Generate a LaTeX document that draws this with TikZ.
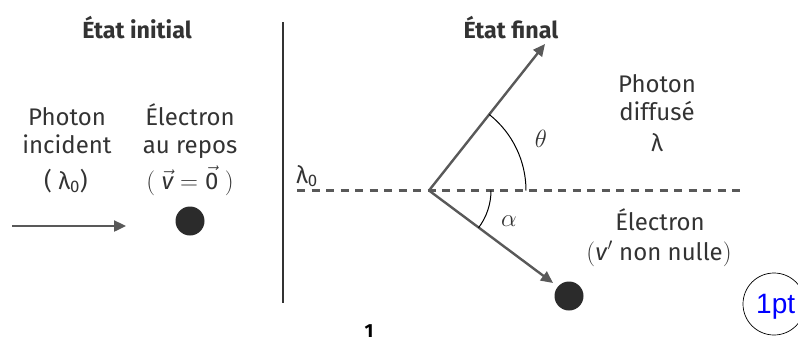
\documentclass[tikz,border=0pt]{standalone}
\usepackage{fontspec}
\setmainfont{Fira Sans}
\newfontfamily\helv{Liberation Sans}
\usetikzlibrary{arrows.meta,calc}
\definecolor{txt}{HTML}{333333}
\definecolor{ln}{HTML}{595959}
\definecolor{dotc}{HTML}{2B2B2B}
\begin{document}
\begin{tikzpicture}[x=1pt,y=-1pt,
  lab/.style={anchor=base,inner sep=0pt,text=txt,font=\fontsize{24}{28}\selectfont},
  ttl/.style={anchor=base,inner sep=0pt,text=txt,font=\fontsize{23.3}{27}\selectfont\bfseries},
  ray/.style={draw=ln,line width=2.4pt,-{Triangle[length=12pt,width=11pt]}},
  dotstyle/.style={circle,fill=dotc,inner sep=0pt,minimum size=29pt},
  arcst/.style={draw=black,line width=1pt}]
\useasboundingbox (0,0) rectangle (798,338);
% titles
\node[ttl] (t1) at (137,38) {État initial};
\node[ttl] (t2) at (511,38) {État final};
% separator
\coordinate (s1) at (283,22);
\coordinate (s2) at (283,303);
\draw[draw=txt,line width=2.6pt] (s1) -- (s2);
% left texts
\node[lab] (p1) at (67,125) {Photon};
\node[lab] (p2) at (67,153) {incident};
\node[lab] (p3) at (66,189) {( λ\textsubscript{0})};
\node[lab] (e1) at (190,125) {Électron};
\node[lab] (e2) at (190,153) {au repos};
\node[lab] (e3) at (190,189) {$\Bigl($ $\vec{\mbox{\itshape v}}=\vec{\mbox{0}}$ $\Bigr)$};
% incident
\coordinate (ia) at (12,226);
\coordinate (ib) at (126,226);
\draw[ray] (ia) -- (ib);
\node[dotstyle] (d1) at (190,221) {};
% final state
\node[lab,anchor=base west] (l0) at (296,183) {λ\textsubscript{0}};
\coordinate (da) at (297,190.5);
\coordinate (db) at (742,190.5);
\draw[draw=ln,line width=2.4pt,dash pattern=on 8pt off 6.5pt] (da) -- (db);
\coordinate (O) at (429,190.5);
\coordinate (ph) at (545,44);
\coordinate (el) at (553,283);
\draw[ray] (O) -- (ph);
\draw[ray] (O) -- (el);
\node[dotstyle] (d2) at (569,296) {};
% angle arcs
\draw[arcst] ($(O)+(97,0)$) arc[start angle=0,end angle=-51.6,radius=97];
\draw[arcst] ($(O)+(62,0)$) arc[start angle=0,end angle=37,radius=62];
\node[anchor=center,inner sep=0pt,text=txt,font=\fontsize{24}{28}\selectfont] (th) at (541,139) {$\theta$};
\node[anchor=center,inner sep=0pt,text=txt,font=\fontsize{24}{28}\selectfont] (al) at (509,221) {$\alpha$};
% right texts
\node[lab] (r1) at (657,92) {Photon};
\node[lab] (r2) at (657,120) {diffusé};
\node[lab] (r3) at (657,151) {λ};
\node[lab] (r4) at (660,230) {Électron};
\node[lab] (r5) at (659,260) {$\bigl($\textit{v}$^\prime$ non nulle$\bigr)$};
% artefacts
\node[draw=black,circle,line width=0.7pt,minimum size=62pt,inner sep=0pt] (c1) at (774,304) {};
\node[anchor=base west,inner sep=0pt,text=blue,font=\helv\fontsize{28}{30}\selectfont] (c1t) at (756,313) {1pt};
\node[anchor=base,inner sep=0pt,font=\fontsize{19}{22}\selectfont\rmfamily\bfseries] (one) at (369,337) {1};
\end{tikzpicture}
\end{document}
